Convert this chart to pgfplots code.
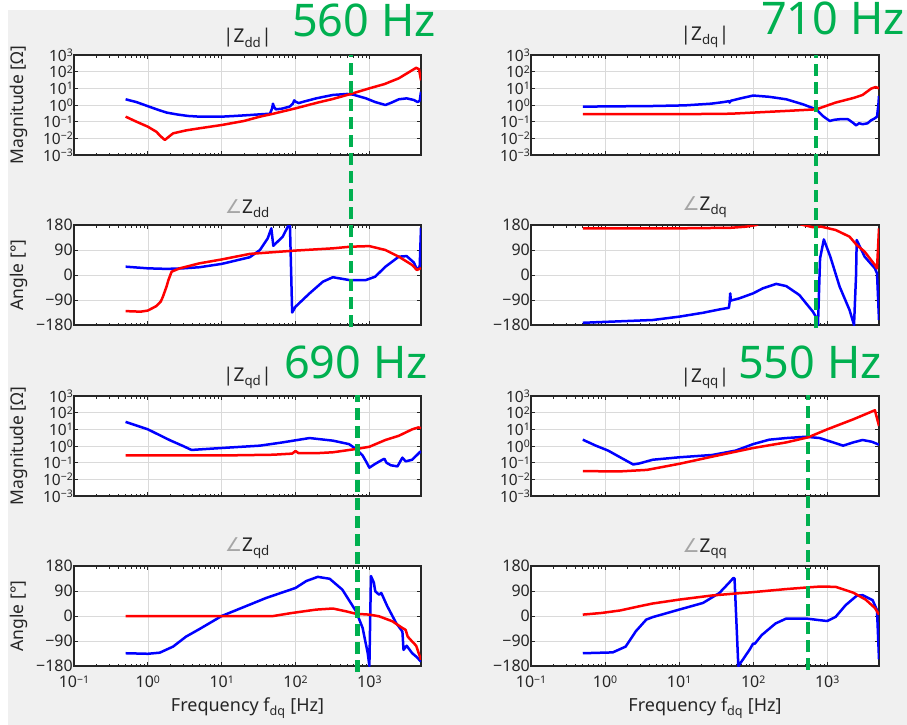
\documentclass[border=0pt]{standalone}
\usepackage{fontspec}
\setmainfont{Noto Sans}
\newfontfamily\dvs{DejaVu Sans}
\usepackage{pgfplots}
\pgfplotsset{compat=1.18}
\definecolor{bgc}{RGB}{240,240,240}
\definecolor{axc}{RGB}{38,38,38}
\definecolor{gridc}{RGB}{218,218,218}
\definecolor{myred}{RGB}{255,0,0}
\definecolor{myblue}{RGB}{0,0,255}
\definecolor{mygreen}{RGB}{0,176,80}
\newcommand{\tsup}[1]{\raisebox{0.55ex}{\fontsize{10.5}{10.5}\selectfont #1}}
\pgfplotsset{
  zzbase/.style={scale only axis, width=347pt, height=100pt, xmin=0.1, xmax=5000,
    axis background/.style={fill=white},
    axis line style={line width=1.1pt, color=axc},
    tick style={color=axc, line width=0.7pt},
    major tick length=4pt, minor tick length=2.5pt, tick align=inside,
    xmajorgrids, ymajorgrids, major grid style={color=gridc, line width=0.6pt},
    xtick={0.1,1,10,100,1000}, xticklabels={,,,,},
    tick label style={font=\fontsize{16}{16}\selectfont, color=axc},
    yticklabel style={inner xsep=1pt, inner ysep=1pt},
    xticklabel style={yshift=-6pt},
    title style={font=\fontsize{19}{19}\selectfont, color=black!85, anchor=south, at={(0.5,1)}, yshift=-2pt},
    ylabel style={font=\fontsize{17.5}{17.5}\selectfont, color=axc, at={(axis description cs:-0.16,0.5)}, anchor=center},
    xlabel style={font=\fontsize{18}{18}\selectfont, color=axc, yshift=-3pt},
  },
  zzmag/.style={zzbase, ymin=1e-3, ymax=1e3, ytick={1e-3,1e-2,1e-1,1,1e1,1e2,1e3}, yminorticks=false,
    yticklabel style={font=\fontsize{15.5}{15.5}\selectfont},
    yticklabels={10\tsup{−3},10\tsup{−2},10\tsup{−1},10\tsup{0},10\tsup{1},10\tsup{2},10\tsup{3}}},
  zzang/.style={zzbase, ymin=-180, ymax=180, ytick={-180,-90,0,90,180}, yticklabels={−180,−90,0,90,180}},
  zzbot/.style={xticklabels={10\tsup{−1},10\tsup{0},10\tsup{1},10\tsup{2},10\tsup{3}}, xlabel={Frequency f\textsubscript{dq} [Hz]}},
  zzred/.style={color=myred, line width=2.5pt, line join=round},
  zzblue/.style={color=myblue, line width=2.5pt, line join=round},
  zzgl/.style={hide axis, scale only axis, width=347pt, xmin=0.1, xmax=5000, ymin=0, ymax=1, clip=false},
  zzgline/.style={color=mygreen, line width=4.5pt, dash pattern=on 12pt off 6pt},
}
\begin{document}
\begin{tikzpicture}
\fill[white] (0pt,0pt) rectangle (907pt,-725pt);
\fill[bgc] (8pt,-10pt) rectangle (907pt,-725pt);
\useasboundingbox (0pt,0pt) rectangle (907pt,-725pt);

% ---------- |Z_dd|
\begin{semilogxaxis}[zzmag, ymode=log, at={(74pt,-155pt)}, anchor=south west, title={|Z\textsubscript{dd}|}, ylabel={Magnitude [Ω]}]
\addplot[zzblue] coordinates {(0.5,2.2) (0.7,1.5) (1,0.85) (1.4,0.5) (1.8,0.35) (2.5,0.27) (3.5,0.22) (5,0.2) (7,0.2) (10,0.2) (15,0.22) (24,0.25) (35,0.28) (45,0.3) (48,0.6) (49.5,1.2) (51,0.8) (54,0.55) (65,0.6) (83,0.8) (92,1.2) (96,1.9) (100,1.6) (110,1.3) (130,1.6) (190,2.5) (320,4) (500,4.6) (600,4.2) (900,2.5) (1200,1.5) (1650,1.0) (2000,1.4) (2500,2.2) (3200,2.5) (4000,2.0) (4500,1.5) (4800,1.8) (5000,6.3)};
\addplot[zzred] coordinates {(0.5,0.2) (0.7,0.1) (1,0.05) (1.3,0.025) (1.5,0.013) (1.7,0.008) (1.9,0.012) (2.2,0.02) (3.3,0.03) (5,0.04) (10,0.063) (20,0.11) (33,0.2) (50,0.3) (100,0.63) (200,1.4) (320,2.3) (560,4.6) (1000,10) (1600,18) (2500,40) (4300,170) (4700,140) (5000,30)};
\end{semilogxaxis}

% ---------- angle Z_dd
\begin{semilogxaxis}[zzang, at={(74pt,-325pt)}, anchor=south west, title={{\dvs\color{gray!70}∠}Z\textsubscript{dd}}, ylabel={Angle [°]}]
\addplot[zzblue] coordinates {(0.5,30) (1,24) (1.8,22) (3,24) (5,28) (10,40) (24,64) (33,90) (42,132) (47,168) (50,105) (67,138) (80,178) (84,180) (90,-135) (100,-114) (155,-66) (235,-24) (320,-8) (530,-18) (900,-18) (1200,-6) (1650,30) (2500,66) (3200,68) (4000,45) (4400,20) (4800,30) (5000,170)};
\addplot[zzred] coordinates {(0.5,-130) (0.8,-132) (1,-128) (1.3,-112) (1.5,-95) (1.6,-78) (1.8,-40) (1.9,-18) (2.1,12) (2.7,24) (5,42) (10,56) (24,76) (100,88) (320,96) (560,102) (1000,104) (1650,90) (2500,66) (3800,36) (4400,18) (5000,25)};
\end{semilogxaxis}

% ---------- |Z_dq|
\begin{semilogxaxis}[zzmag, ymode=log, at={(531pt,-155pt)}, anchor=south west, width=348pt, title={|Z\textsubscript{dq}|}]
\addplot[zzblue] coordinates {(0.5,0.8) (1,0.82) (4.4,0.87) (12,0.95) (27,1.2) (40,1.5) (47,1.7) (48,1.4) (50,1.8) (65,2.4) (100,3.7) (165,3.1) (280,2.2) (470,1.1) (710,0.55) (870,0.22) (1080,0.11) (1250,0.13) (1470,0.14) (1900,0.14) (2200,0.09) (2450,0.06) (2700,0.08) (3000,0.07) (3500,0.08) (3900,0.12) (4300,0.15) (4700,0.2) (4900,1) (5000,3.5)};
\addplot[zzred] coordinates {(0.5,0.28) (10,0.28) (50,0.3) (100,0.35) (280,0.44) (710,0.55) (1300,1.4) (2300,2.7) (3000,4) (3900,9.5) (4500,12) (5000,10)};
\end{semilogxaxis}

% ---------- angle Z_dq
\begin{semilogxaxis}[zzang, at={(531pt,-325pt)}, anchor=south west, width=348pt, title={{\dvs\color{gray!70}∠}Z\textsubscript{dq}}]
\addplot[zzblue] coordinates {(0.5,-172) (4.4,-162) (10,-150) (21,-136) (35,-124) (47,-118) (48,-100) (49,-66) (50,-92) (65,-84) (100,-66) (135,-48) (205,-32) (280,-40) (420,-72) (640,-132) (720,-155) (750,-180) (800,60) (900,128) (1100,66) (1470,-42) (2000,-126) (2300,-180) (2450,0) (2500,126) (3200,66) (4400,24) (4700,6) (5000,-162)};
\addplot[zzred] coordinates {(0.5,168) (10,168) (50,170) (80,174) (110,180) (130,190) (200,200) (350,195) (445,182) (640,172) (830,174) (1300,162) (2000,138) (2500,108) (3200,84) (4400,36) (4700,24) (5000,168)};
\end{semilogxaxis}

% ---------- |Z_qd|
\begin{semilogxaxis}[zzmag, ymode=log, at={(74pt,-496pt)}, anchor=south west, title={|Z\textsubscript{qd}|}, ylabel={Magnitude [Ω]}]
\addplot[zzblue] coordinates {(0.5,28) (1,10) (2,2.2) (3,1) (3.9,0.58) (10,0.76) (33,1.05) (67,1.65) (113,2.4) (155,3.0) (320,2.1) (530,1.3) (660,0.66) (810,0.27) (900,0.12) (1000,0.05) (1200,0.085) (1500,0.15) (1600,0.17) (1700,0.1) (1950,0.07) (2400,0.06) (2800,0.2) (3100,0.12) (3800,0.15) (5000,0.5)};
\addplot[zzred] coordinates {(0.5,0.27) (10,0.27) (50,0.3) (90,0.35) (100,0.5) (110,0.37) (190,0.37) (320,0.42) (660,0.66) (1000,0.9) (1650,2.3) (2500,4.1) (3800,10) (4600,13) (5000,12)};
\end{semilogxaxis}

% ---------- angle Z_qd
\begin{semilogxaxis}[zzang, zzbot, at={(74pt,-666pt)}, anchor=south west, title={{\dvs\color{gray!70}∠}Z\textsubscript{qd}}, ylabel={Angle [°]}]
\addplot[zzblue] coordinates {(0.5,-134) (1,-136) (1.45,-132) (2.2,-110) (3.3,-74) (5,-47) (10,0) (24,41) (40,65) (100,101) (140,126) (200,141) (290,134) (430,95) (660,17) (810,-43) (950,-134) (1000,-180) (1050,144) (1150,120) (1200,89) (1350,77) (1450,83) (1750,35) (2300,-25) (2800,-56) (2900,-122) (3200,-107) (3800,-134) (4300,-146) (5000,-164)};
\addplot[zzred] coordinates {(0.5,0) (50,0) (90,11) (190,23) (320,27) (480,17) (660,8) (1000,5) (1350,-1) (2050,-19) (2800,-43) (3100,-50) (3300,-74) (3800,-92) (4300,-107) (5000,-158)};
\end{semilogxaxis}

% ---------- |Z_qq|
\begin{semilogxaxis}[zzmag, ymode=log, at={(531pt,-496pt)}, anchor=south west, width=348pt, title={|Z\textsubscript{qq}|}]
\addplot[zzblue] coordinates {(0.5,2.4) (0.75,1.05) (1.1,0.53) (1.6,0.21) (2.4,0.078) (2.9,0.09) (4.4,0.15) (10,0.21) (28,0.29) (58,0.53) (100,1.3) (165,2.4) (280,3) (520,3.6) (790,3) (1200,1.65) (1640,1.05) (2250,1.65) (3000,2.3) (4000,1.8) (5000,1.2)};
\addplot[zzred] coordinates {(0.5,0.031) (1.6,0.03) (3.7,0.037) (10,0.085) (28,0.23) (100,0.76) (280,1.65) (550,3.3) (1000,10) (2250,40) (4400,140) (5000,16)};
\end{semilogxaxis}

% ---------- angle Z_qq
\begin{semilogxaxis}[zzang, zzbot, at={(531pt,-666pt)}, anchor=south west, width=348pt, title={{\dvs\color{gray!70}∠}Z\textsubscript{qq}}]
\addplot[zzblue] coordinates {(0.5,-134) (1.27,-131) (1.9,-110) (2.6,-55) (3.6,-13) (4.4,-4) (10,23) (21,47) (35,83) (47,119) (54,137) (56,135) (63,-180) (73,-156) (90,-120) (100,-99) (105,-100) (130,-69) (200,-27) (280,-9) (520,-9) (790,-15) (1000,-18) (1300,-3) (1770,39) (2500,73) (3000,75) (4100,57) (4700,21) (5000,-156)};
\addplot[zzred] coordinates {(0.5,5) (0.9,11) (1.6,20) (2.9,35) (4.4,45) (10,59) (28,74) (58,81) (100,86) (280,97) (550,103) (800,106) (1300,105) (2250,84) (3300,59) (4400,29) (5000,5)};
\end{semilogxaxis}

% ---------- green markers
\begin{semilogxaxis}[zzgl, at={(74pt,-327pt)}, anchor=south west, height=272pt]
\addplot[zzgline] coordinates {(560,0) (560,1)};
\end{semilogxaxis}
\begin{semilogxaxis}[zzgl, at={(531pt,-328pt)}, anchor=south west, width=348pt, height=273pt]
\addplot[zzgline] coordinates {(710,0) (710,1)};
\end{semilogxaxis}
\begin{semilogxaxis}[zzgl, at={(74pt,-672pt)}, anchor=south west, height=277pt]
\addplot[zzgline] coordinates {(690,0) (690,1)};
\end{semilogxaxis}
\begin{semilogxaxis}[zzgl, at={(531pt,-670pt)}, anchor=south west, width=348pt, height=275pt]
\addplot[zzgline] coordinates {(550,0) (550,1)};
\end{semilogxaxis}

\node[anchor=base west, text=mygreen, font=\fontsize{45}{45}\selectfont, inner sep=0pt] at (292pt,-37pt) {560 Hz};
\node[anchor=base west, text=mygreen, font=\fontsize{45}{45}\selectfont, inner sep=0pt] at (761pt,-35pt) {710 Hz};
\node[anchor=base west, text=mygreen, font=\fontsize{45}{45}\selectfont, inner sep=0pt] at (284pt,-378pt) {690 Hz};
\node[anchor=base west, text=mygreen, font=\fontsize{45}{45}\selectfont, inner sep=0pt] at (738pt,-378pt) {550 Hz};
\end{tikzpicture}
\end{document}
